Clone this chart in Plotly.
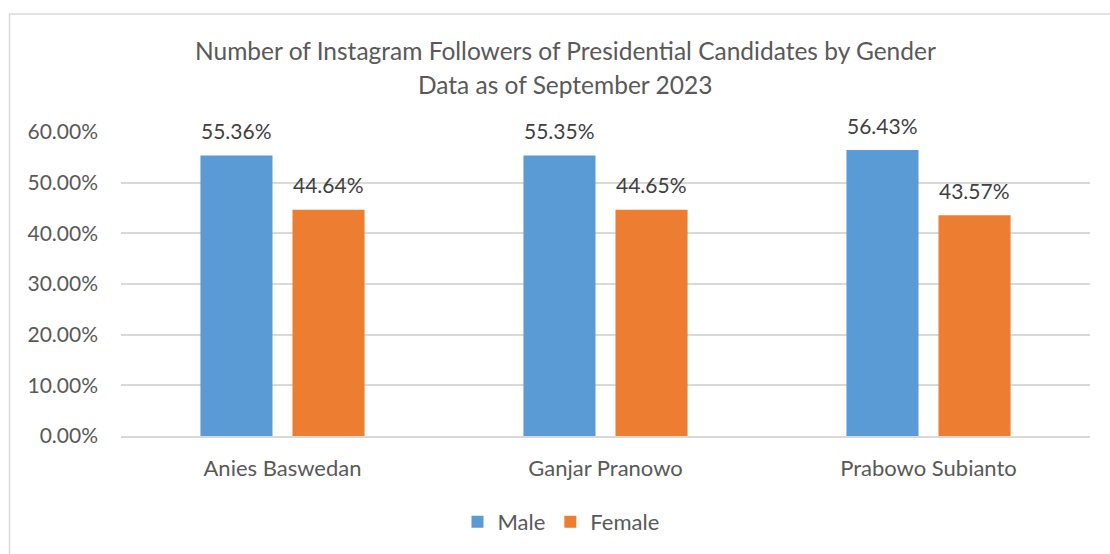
import plotly.graph_objects as go

candidates = ["Anies Baswedan", "Ganjar Pranowo", "Prabowo Subianto"]
male = [0.5536, 0.5535, 0.5643]
female = [0.4464, 0.4465, 0.4357]
series_names = ["Male", "Female"]
colors = ["#5B9BD5", "#ED7D31"]
y_ticks = [0, 0.1, 0.2, 0.3, 0.4, 0.5, 0.6]
title_lines = ["Number of Instagram Followers of Presidential Candidates by Gender",
               "Data as of September 2023"]

FONT = "Lato"
TXT = "#595959"

W, H = 1110, 554
ML, MR, MT, MB = 121, 20, 132, 117
PW = W - ML - MR
PH = H - MT - MB

def px2x(px):
    return (px - ML) / PW

def py2y(py):
    return (H - MB - py) / PH

fig = go.Figure()
for name, vals, col in zip(series_names, [male, female], colors):
    fig.add_trace(go.Bar(x=candidates, y=vals, name=name, marker=dict(color=col, line=dict(width=0)),
                         cliponaxis=False))

annotations = []
for i, (name, vals) in enumerate(zip(series_names, [male, female])):
    shift = -46 if i == 0 else 46
    for c, v in zip(candidates, vals):
        annotations.append(dict(x=c, y=v, xref="x", yref="y", text=f"{v*100:.2f}%",
                                showarrow=False, xshift=shift, yshift=25, yanchor="middle",
                                font=dict(family=FONT, size=21, color="#404040")))

annotations.append(dict(x=px2x(565), y=py2y(50), xref="paper", yref="paper", text=title_lines[0],
                        showarrow=False, xanchor="center", yanchor="middle",
                        font=dict(family=FONT, size=24.5, color=TXT)))
annotations.append(dict(x=px2x(565), y=py2y(84), xref="paper", yref="paper", text=title_lines[1],
                        showarrow=False, xanchor="center", yanchor="middle",
                        font=dict(family=FONT, size=24.5, color=TXT)))

fig.update_layout(
    width=W, height=H,
    margin=dict(l=ML, r=MR, t=MT, b=MB),
    paper_bgcolor="white", plot_bgcolor="white",
    barmode="group", bargap=0.43, bargroupgap=0.217,
    font=dict(family=FONT, size=21, color=TXT),
    annotations=annotations,
    showlegend=True,
    legend=dict(orientation="h", x=px2x(561), xanchor="center", y=py2y(522), yanchor="middle",
                font=dict(family=FONT, size=22, color=TXT), traceorder="normal",
                itemwidth=30, bgcolor="rgba(0,0,0,0)"),
    shapes=[dict(type="rect", xref="paper", yref="paper", x0=px2x(9.5), x1=px2x(1130),
                 y0=py2y(600), y1=py2y(13.5), line=dict(color="#d9d9d9", width=1.5),
                 fillcolor="rgba(0,0,0,0)", layer="below")],
)
fig.update_yaxes(range=[0, 0.6], tickvals=y_ticks, tickformat=".2%", showgrid=True,
                 gridcolor="#d9d9d9", gridwidth=1.5, zeroline=False, showline=False,
                 ticks="", ticklabelstandoff=22, tickfont=dict(family=FONT, size=21, color=TXT))
fig.update_xaxes(showgrid=False, showline=True, linecolor="#d9d9d9", linewidth=1.5, ticks="",
                 ticklabelstandoff=12, tickfont=dict(family=FONT, size=22, color=TXT))

fig.write_html("out.html")
